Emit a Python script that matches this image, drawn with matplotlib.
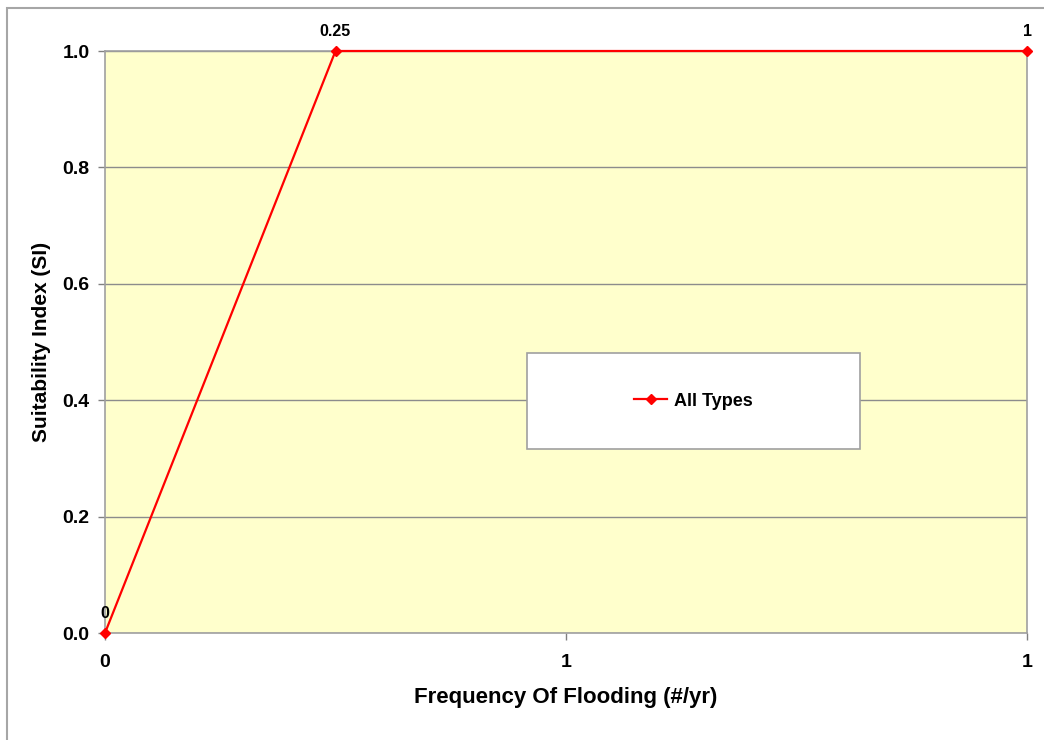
import matplotlib
matplotlib.use('Agg')
import matplotlib.pyplot as plt
from matplotlib.patches import Rectangle

plt.rcParams['font.family'] = ['Liberation Sans', 'DejaVu Sans']

# data
freq = [0, 0.25, 1]
si = [0, 1, 1]
point_labels = ['0', '0.25', '1']
xtick_pos = [0, 0.5, 1]
xtick_labels = ['0', '1', '1']
ytick_pos = [0.0, 0.2, 0.4, 0.6, 0.8, 1.0]
series_name = 'All Types'

fig = plt.figure(figsize=(10.44, 7.4), dpi=100)
fig.patch.set_facecolor('white')

# outer chart border
fig.patches.append(Rectangle((7 / 1044, -0.05), 1.2, (740 - 8) / 740 + 0.05,
                             transform=fig.transFigure, fill=False,
                             edgecolor='#a6a6a6', linewidth=1.5))

ax = fig.add_axes([105 / 1044, 1 - 633 / 740, 922 / 1044, 582 / 740])
ax.set_facecolor('#ffffcc')

ax.plot(freq, si, color='#ff0000', linewidth=1.6, marker='D', markersize=5,
        label=series_name, zorder=5, clip_on=False)

for x, y, t in zip(freq, si, point_labels):
    ax.annotate(t, (x, y), xytext=(0, 14), textcoords='offset points',
                ha='center', va='center', fontsize=11.5, fontweight='bold')

ax.set_xlim(0, 1)
ax.set_ylim(0, 1)
ax.set_xticks(xtick_pos)
ax.set_xticklabels(xtick_labels)
ax.set_yticks(ytick_pos)
ax.set_yticklabels([f'{v:.1f}' for v in ytick_pos])
ax.tick_params(axis='both', labelsize=14, length=5, color='#808080', width=1)
for lab in ax.get_xticklabels() + ax.get_yticklabels():
    lab.set_fontweight('bold')
ax.tick_params(axis='x', pad=10)
ax.tick_params(axis='y', pad=6)

ax.grid(axis='y', color='#8c8c8c', linewidth=1)
ax.set_axisbelow(True)
for s in ax.spines.values():
    s.set_color('#a0a0a0')
    s.set_linewidth(1.2)

ax.set_xlabel('Frequency Of Flooding (#/yr)', fontsize=16, fontweight='bold', labelpad=12)
ax.set_ylabel('Suitability Index (SI)', fontsize=15, fontweight='bold', labelpad=8)

# legend box
bx0, bx1 = (527 - 105) / 922, (860 - 105) / 922
by0, by1 = (633 - 449) / 582, (633 - 353) / 582
ax.add_patch(Rectangle((bx0, by0), bx1 - bx0, by1 - by0, transform=ax.transAxes,
                       facecolor='white', edgecolor='#a0a0a0', linewidth=1.2, zorder=6))
leg = ax.legend(loc='center', bbox_to_anchor=((bx0 + bx1) / 2, (by0 + by1) / 2),
                frameon=False, handlelength=1.8, handletextpad=0.4,
                prop={'weight': 'bold', 'size': 13})
leg.set_zorder(7)

plt.savefig('out.png', dpi=100, facecolor='white')
